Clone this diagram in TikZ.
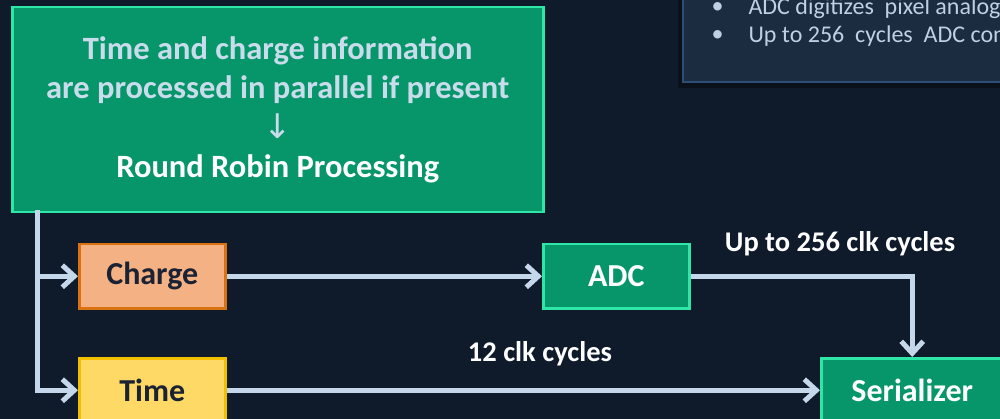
\documentclass[tikz,border=0pt]{standalone}
\usepackage{fontspec}
\setmainfont{Carlito}
\newfontfamily\symfont{DejaVu Sans}
\usetikzlibrary{arrows.meta}
\definecolor{bg}{HTML}{0F1A2A}
\definecolor{panelfill}{HTML}{1B2B40}
\definecolor{panelline}{HTML}{2D4F77}
\definecolor{panelshadow}{HTML}{0A111B}
\definecolor{paneltext}{HTML}{BFD0E3}
\definecolor{grfill}{HTML}{06966A}
\definecolor{grline}{HTML}{2EE6A6}
\definecolor{chfill}{HTML}{F4B183}
\definecolor{chline}{HTML}{D9720F}
\definecolor{tmfill}{HTML}{FFD966}
\definecolor{tmline}{HTML}{F2BF00}
\definecolor{darktext}{HTML}{1A2233}
\definecolor{lighttext}{HTML}{C8DCEB}
\definecolor{conn}{HTML}{C5D8EB}
\tikzset{
  boxbase/.style={anchor=north west, inner sep=0pt, line width=2.5pt, font=\fontsize{32}{38}\selectfont\bfseries},
  greenbox/.style={boxbase, fill=grfill, draw=grline, text=white},
  chargebox/.style={boxbase, fill=chfill, draw=chline, text=darktext},
  timebox/.style={boxbase, fill=tmfill, draw=tmline, text=darktext},
  conline/.style={draw=conn, line width=5pt, -{Straight Barb[length=12pt,width=22pt]}},
  cyclabel/.style={text=white, font=\fontsize{28.5}{34}\selectfont\bfseries},
  paneltxt/.style={text=paneltext, anchor=west, font=\fontsize{24}{28}\selectfont}
}
\begin{document}
\begin{tikzpicture}[x=1pt,y=-1pt]
\useasboundingbox (0,0) rectangle (1000,419);
\clip (0,0) rectangle (1000,419);
\fill[bg] (0,0) rectangle (1000,419);
% top right panel
\fill[panelshadow] (678,-10) rectangle (1010,88);
\filldraw[fill=panelfill, draw=panelline, line width=2pt] (683,-10) rectangle (1010,82);
\node[paneltxt] (b1) at (708,8) {•};
\node[paneltxt] (t1) at (745,8) {ADC digitizes\hspace{0.45em}pixel analog};
\node[paneltxt] (b2) at (708,36) {•};
\node[paneltxt] (t2) at (745,36) {Up to 256\hspace{0.45em}cycles\hspace{0.45em}ADC con};
% main boxes
\node[greenbox, minimum width=531pt, minimum height=205pt, align=center,
      font=\fontsize{32.5}{39.5}\selectfont\bfseries] (info) at (11,6)
  {\textcolor{lighttext}{Time and charge information}\\
   \textcolor{lighttext}{are processed in parallel if present}\\
   \textcolor{lighttext}{\symfont\mdseries\fontsize{34}{39.5}\selectfont ↓}\\
   Round Robin Processing};
\node[chargebox, minimum width=146pt, minimum height=64pt] (charge) at (78,243) {Charge};
\node[timebox, minimum width=146pt, minimum height=64pt] (time) at (78,357) {Time};
\node[greenbox, minimum width=146pt, minimum height=64pt] (adc) at (542,243) {ADC};
\node[greenbox, minimum width=182pt, minimum height=64pt] (ser) at (820,357) {Serializer};
% connectors
\coordinate (split) at ([xshift=26pt,yshift=3pt]info.south west);
\draw[conline] (split) |- (charge.west);
\draw[conline] (split) |- (time.west);
\draw[conline] (charge.east) -- (adc.west);
\draw[conline] (adc.east) -| (ser.north);
\draw[conline] (time.east) -- (ser.west);
% labels
\node[cyclabel] (lab1) at (840,244) {Up to 256 clk cycles};
\node[cyclabel] (lab2) at (540,354) {12 clk cycles};
\end{tikzpicture}
\end{document}
